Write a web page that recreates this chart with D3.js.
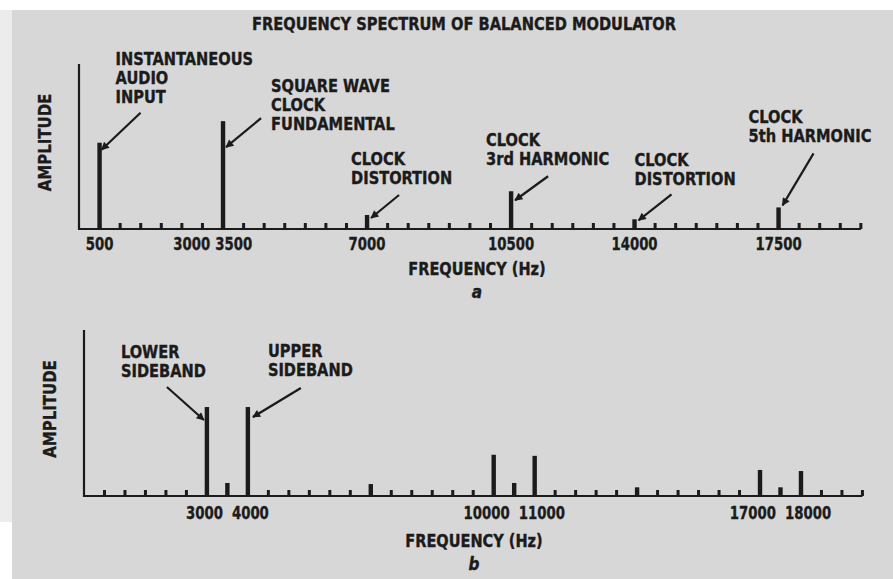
<!DOCTYPE html>
<html><head><meta charset="utf-8">
<script src="https://cdn.jsdelivr.net/npm/d3@7"></script>
<style>
html,body{margin:0;padding:0;background:#fff;}
svg{display:block;}
text{font-family:"Liberation Sans Narrow","Arial Narrow","DejaVu Sans Condensed",sans-serif;font-weight:bold;fill:#1b1b1b;stroke:#1b1b1b;stroke-width:0.35px;}
</style></head>
<body>
<svg id="chart" width="893" height="579"></svg>
<script>
// ---------- data ----------
const titleText = "FREQUENCY SPECTRUM OF BALANCED MODULATOR";
const xAxisTitle = "FREQUENCY (Hz)";
const yAxisTitle = "AMPLITUDE";

// panel a : balanced modulator input spectrum (relative amplitude, fundamental = 1)
const topFreqs = [500, 3500, 7000, 10500, 14000, 17500];
const topAmps  = [0.80, 1.00, 0.13, 0.35, 0.09, 0.20];
const topTickLabels = [500, 3000, 3500, 7000, 10500, 14000, 17500];
const topNotes = [
  ["INSTANTANEOUS", "AUDIO", "INPUT"],
  ["SQUARE WAVE", "CLOCK", "FUNDAMENTAL"],
  ["CLOCK", "DISTORTION"],
  ["CLOCK", "3rd HARMONIC"],
  ["CLOCK", "DISTORTION"],
  ["CLOCK", "5th HARMONIC"]
];
const topNoteFreqs = [500, 3500, 7000, 10500, 14000, 17500];

// panel b : output spectrum
const botFreqs = [3000, 3500, 4000, 7000, 10000, 10500, 11000, 14000, 17000, 17500, 18000];
const botAmps  = [0.82, 0.12, 0.82, 0.11, 0.38, 0.12, 0.37, 0.08, 0.24, 0.08, 0.23];
const botTickLabels = [3000, 4000, 10000, 11000, 17000, 18000];
const botNotes = [["LOWER", "SIDEBAND"], ["UPPER", "SIDEBAND"]];
const botNoteFreqs = [3000, 4000];

// axis: minor tick every 500 Hz up to 19500 Hz; the drawn axis omits the 12000 Hz mark
const minorStep = 500;
const axisMax = 19500;
const axisBreak = [11500, 12500];
const ampMax = 1.53;

// ---------- layout (styles / offsets) ----------
// note layout: [text dx, first-baseline dy, arrow tail dx, tail dy, tip dx, tip dy] relative to bar top
const topNoteLayout = [
  [16, -78, 41, -30, 2, 7],
  [48, -29, 38, -3, 3, 26],
  [-16, -50, 32, -20, 4, 3],
  [-25, -45, 37, -15, 4, 9],
  [0, -53, 37, -25, 4, 1],
  [-30, -84, 35, -54, 4, -2]
];
const botNoteLayout = [
  [-86, -49, -40, -20, -3, 13],
  [20, -50, 53, -19, 5, 10]
];

const svg = d3.select("#chart");
const ink = "#1b1b1b";

// background paper
svg.append("rect").attr("x", 0).attr("y", 0).attr("width", 893).attr("height", 579).attr("fill", "#ffffff");
svg.append("rect").attr("x", 0).attr("y", 10).attr("width", 12).attr("height", 512).attr("fill", "#ececec");
svg.append("rect").attr("x", 12).attr("y", 10).attr("width", 881).attr("height", 569).attr("fill", "#d7d7d7");

const defs = svg.append("defs");
defs.append("marker").attr("id", "arr").attr("viewBox", "0 0 10 10")
  .attr("refX", 9).attr("refY", 5).attr("markerUnits", "userSpaceOnUse")
  .attr("markerWidth", 12).attr("markerHeight", 8).attr("orient", "auto")
  .append("path").attr("d", "M0,0 L10,5 L0,10 Z").attr("fill", ink);

// text helper: horizontally condensed text
function label(parent, x, y, lines, o) {
  const sx = o.sx || 1, lh = o.lh || 19;
  const t = parent.append("text")
    .attr("transform", `translate(${x},${y})` + (o.rotate ? ` rotate(${o.rotate})` : "") + ` scale(${sx},1)`)
    .attr("text-anchor", o.anchor || "start")
    .style("font-size", o.size + "px");
  if (o.italic) t.style("font-style", "italic");
  lines.forEach((s, j) => t.append("tspan").attr("x", 0).attr("dy", j ? lh : 0).text(s));
  return t;
}

// title
svg.append("text").attr("x", 464).attr("y", 30).attr("text-anchor", "middle")
  .style("font-size", "17px").attr("textLength", 424).attr("lengthAdjust", "spacingAndGlyphs")
  .text(titleText);

const digitSize = 18, digitSx = 0.82;
const noteSize = 17.5, noteSx = 0.93;

function panel(cfg) {
  const k = cfg.slope;
  // piecewise-linear scale reproducing the drawn axis (one 500 Hz mark missing between 11500 and 12500)
  const x = d3.scaleLinear()
    .domain([0, axisBreak[0], axisBreak[1], axisMax])
    .range([cfg.x0, cfg.x0 + axisBreak[0] * k, cfg.x0 + (axisBreak[1] - minorStep) * k, cfg.x0 + (axisMax - minorStep) * k]);
  const y = d3.scaleLinear().domain([0, ampMax]).range([cfg.base, cfg.top]);
  const g = svg.append("g");

  // axes
  g.append("line").attr("x1", x(0)).attr("x2", x(0)).attr("y1", y(ampMax)).attr("y2", y(0) + 1)
    .attr("stroke", ink).attr("stroke-width", 2.2);
  g.append("line").attr("x1", x(0) - 1).attr("x2", x(axisMax)).attr("y1", y(0)).attr("y2", y(0))
    .attr("stroke", ink).attr("stroke-width", 2.2);

  // minor ticks
  const ticks = d3.range(minorStep, axisMax + 1, minorStep).filter(t => t !== (axisBreak[0] + axisBreak[1]) / 2);
  g.selectAll("rect.tick").data(ticks).join("rect").attr("class", "tick")
    .attr("x", d => x(d) - 1.5).attr("width", 3)
    .attr("y", y(0) - 6).attr("height", 6).attr("fill", ink);

  // spectral lines
  const data = cfg.freqs.map((f, i) => ({ f, a: cfg.amps[i] }));
  g.selectAll("rect.bar").data(data).join("rect").attr("class", "bar")
    .attr("x", d => x(d.f) - 2.2).attr("width", 4.4)
    .attr("y", d => y(d.a)).attr("height", d => y(0) - y(d.a)).attr("fill", ink);

  // tick labels with simple push-apart
  const labs = cfg.tickLabels.map(v => ({ v, cx: x(v) }));
  const tmp = g.append("text").style("font-size", digitSize + "px");
  labs.forEach(l => { tmp.text(String(l.v)); l.w = tmp.node().getComputedTextLength() * digitSx; });
  tmp.remove();
  for (let i = 1; i < labs.length; i++) {
    const a = labs[i - 1], b = labs[i];
    const need = a.w / 2 + b.w / 2 + cfg.labelGap;
    const have = b.cx - a.cx;
    if (have < need) {
      const mid = (a.cx + b.cx) / 2;
      a.cx = mid - need / 2; b.cx = mid + need / 2;
    }
  }
  labs.forEach(l => label(g, l.cx, y(0) + cfg.labelDy, [String(l.v)], { size: digitSize, sx: digitSx, anchor: "middle" }));

  // axis titles
  label(g, x(0) - 28, (y(0) + y(ampMax)) / 2 - 4, [yAxisTitle], { size: 17, sx: 0.98, anchor: "middle", rotate: -90 });
  label(g, cfg.xTitleX, y(0) + cfg.xTitleDy, [xAxisTitle], { size: 17, sx: 0.95, anchor: "middle" });
  label(g, cfg.xTitleX, y(0) + cfg.xTitleDy + 23, [cfg.letter], { size: 17, anchor: "middle", italic: true });

  // annotations
  cfg.notes.forEach((lines, i) => {
    const f = cfg.noteFreqs[i];
    const a = cfg.amps[cfg.freqs.indexOf(f)];
    const bx = x(f), by = y(a);
    const L = cfg.noteLayout[i];
    label(g, bx + L[0], by + L[1], lines, { size: noteSize, sx: noteSx, lh: 19 });
    g.append("line").attr("x1", bx + L[2]).attr("y1", by + L[3]).attr("x2", bx + L[4]).attr("y2", by + L[5])
      .attr("stroke", ink).attr("stroke-width", 2.2).attr("marker-end", "url(#arr)");
  });
}

panel({
  x0: 79, slope: 0.04115, base: 229, top: 64,
  freqs: topFreqs, amps: topAmps, tickLabels: topTickLabels,
  notes: topNotes, noteFreqs: topNoteFreqs, noteLayout: topNoteLayout,
  labelDy: 21, labelGap: 5, xTitleX: 477, xTitleDy: 46, letter: "a"
});
panel({
  x0: 84, slope: 0.04097, base: 496, top: 330,
  freqs: botFreqs, amps: botAmps, tickLabels: botTickLabels,
  notes: botNotes, noteFreqs: botNoteFreqs, noteLayout: botNoteLayout,
  labelDy: 23, labelGap: 9, xTitleX: 474, xTitleDy: 51, letter: "b"
});
</script>
</body></html>
